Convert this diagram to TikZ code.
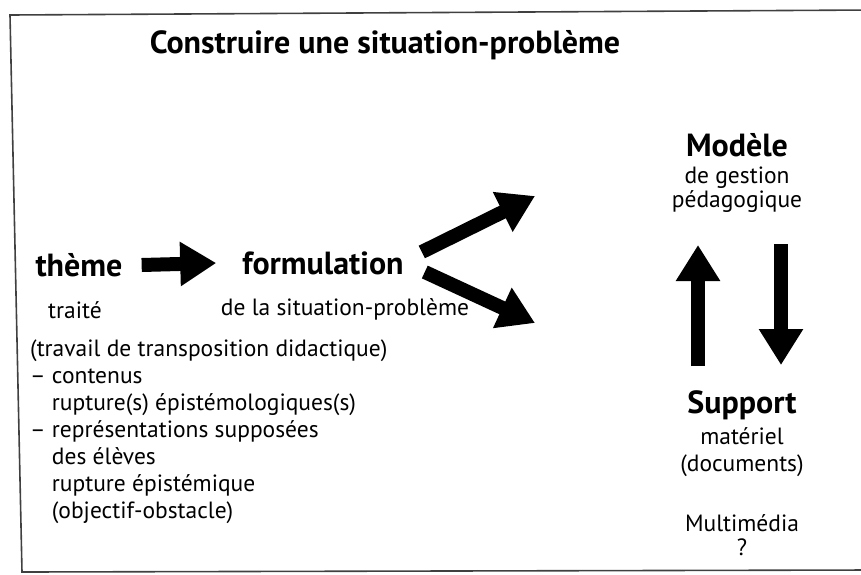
\documentclass[tikz,border=0pt]{standalone}
\usepackage{fontspec}
\setmainfont{PT Sans}
\usetikzlibrary{positioning,arrows.meta}

\begin{document}
\begin{tikzpicture}[x=1pt, y=-1pt, >={Triangle[width=42pt,length=36pt]},
  every node/.style={inner sep=0pt, font=\fontsize{23.5}{27}\selectfont},
  big/.style={font=\fontsize{32}{38}\selectfont\bfseries},
  fat/.style={->, line width=14pt}]
  \useasboundingbox (0,0) rectangle (861,574);

  % Frame
  \draw[line width=1.6pt, black!75] (870,10) -- (10,15) -- (22,572) -- (870,570);

  % Nodes
  \node[big] (title) at (385,45) {Construire une situation-problème};
  \node[big] (theme) at (79,265) {thème};
  \node[big] (formulation) at (323,263) {formulation};
  \node[big] (modele) at (737,145) {Modèle};
  \node[big] (support) at (742,405) {Support};

  % Sub labels
  \node[below=24pt of theme, xshift=-4pt] (traite) {traité};
  \node[below=24pt of formulation, xshift=22pt] (situation) {de la situation-problème};
  \node[below=10pt of modele, align=center, font=\fontsize{23.5}{24}\selectfont] (gestion) {de gestion\\pédagogique};
  \node[below=8pt of support, align=center] (materiel) {matériel\\(documents)};
  \node[below=37pt of materiel, align=center, font=\fontsize{23.5}{24}\selectfont] (multimedia) {Multimédia\\?};
  \node[anchor=north west, align=left] (travail) at (30,340) {(travail de transposition didactique)\\
    – contenus\\
    \hphantom{–\ }rupture(s) épistémologiques(s)\\
    – représentations supposées\\
    \hphantom{–\ }des élèves\\
    \hphantom{–\ }rupture épistémique\\
    \hphantom{–\ }(objectif-obstacle)};

  % Arrow ends
  \coordinate (upend) at (535,196);
  \coordinate (downend) at (535,323);
  \coordinate (upfoot) at (698,366);
  \coordinate (uphead) at (698,245);
  \coordinate (downfoot) at (781,244);
  \coordinate (downhead) at (781,365);

  % Arrows
  \draw[fat] ([xshift=19pt]theme.east) -- ([xshift=-26pt]formulation.west);
  \draw[fat] ([shift={(18,-11)}]formulation.east) -- (upend);
  \draw[fat] ([shift={(21,9)}]formulation.east) -- (downend);
  \draw[fat] (upfoot) -- (uphead);
  \draw[fat] (downfoot) -- (downhead);
\end{tikzpicture}
\end{document}
